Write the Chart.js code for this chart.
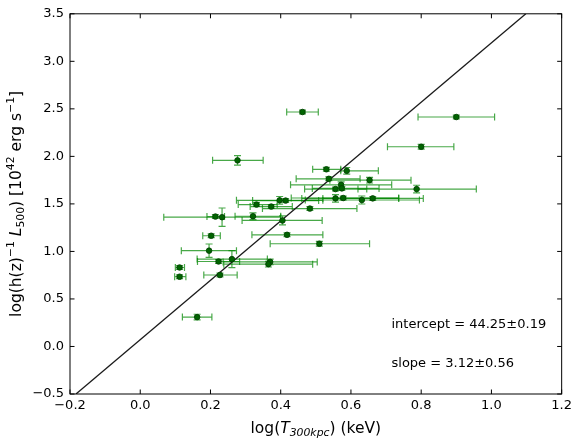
<!DOCTYPE html>
<html>
<head>
<meta charset="utf-8">
<script src="https://cdn.jsdelivr.net/npm/chart.js@4.4.0/dist/chart.umd.min.js"></script>
<style>
  html, body { margin: 0; padding: 0; background: #fff; }
  #wrap { width: 576px; height: 439px; position: relative; }
</style>
</head>
<body>
<div id="wrap"><canvas id="lxt"></canvas></div>
<script>
// log(T_300kpc) and log(h(z)^-1 L_500) for each cluster
var logT = [0.462, 0.800, 0.900, 0.277, 0.530, 0.588, 0.537, 0.653, 0.572, 0.556,
            0.574, 0.787, 0.397, 0.414, 0.556, 0.578, 0.631, 0.662, 0.331, 0.373,
            0.483, 0.214, 0.233, 0.321, 0.405, 0.202, 0.418, 0.510, 0.196, 0.261,
            0.223, 0.370, 0.365, 0.112, 0.112, 0.227, 0.162];
var logL = [2.467, 2.101, 2.414, 1.958, 1.864, 1.848, 1.764, 1.750, 1.701, 1.656,
            1.663, 1.656, 1.538, 1.535, 1.558, 1.562, 1.541, 1.558, 1.493, 1.472,
            1.451, 1.367, 1.360, 1.370, 1.326, 1.165, 1.175, 1.081, 1.008, 0.919,
            0.894, 0.890, 0.866, 0.831, 0.734, 0.752, 0.309];
// ends of the horizontal error bars
var logTlo = [0.417, 0.704, 0.791, 0.206, 0.491, 0.571, 0.444, 0.540, 0.428, 0.468,
              0.490, 0.620, 0.274, 0.320, 0.460, 0.430, 0.470, 0.520, 0.279, 0.313,
              0.348, 0.190, 0.067, 0.270, 0.290, 0.178, 0.318, 0.370, 0.117, 0.162,
              0.163, 0.236, 0.238, 0.100, 0.098, 0.181, 0.120];
var logThi = [0.507, 0.893, 1.009, 0.350, 0.571, 0.678, 0.626, 0.771, 0.716, 0.645,
              0.680, 0.957, 0.520, 0.508, 0.736, 0.736, 0.795, 0.806, 0.390, 0.433,
              0.617, 0.240, 0.400, 0.400, 0.518, 0.228, 0.520, 0.653, 0.274, 0.362,
              0.283, 0.504, 0.491, 0.126, 0.130, 0.276, 0.204];
// symmetric vertical errors
var logLerr = [0.02, 0.025, 0.02, 0.05, 0.02, 0.035, 0.02, 0.03, 0.03, 0.02,
               0.02, 0.04, 0.04, 0.02, 0.04, 0.02, 0.042, 0.02, 0.02, 0.02,
               0.02, 0.02, 0.097, 0.035, 0.047, 0.02, 0.02, 0.025, 0.07, 0.089,
               0.02, 0.03, 0.03, 0.02, 0.02, 0.02, 0.03];

// best fit line end points
var fitT = [-0.183, 1.098];
var fitL = [-0.5, 3.5];

var xTicks = [-0.2, 0.0, 0.2, 0.4, 0.6, 0.8, 1.0, 1.2];
var yTicks = [-0.5, 0.0, 0.5, 1.0, 1.5, 2.0, 2.5, 3.0, 3.5];

var fitText = ['intercept = 44.25\u00b10.19', 'slope = 3.12\u00b10.56'];

var FONT = '"DejaVu Sans", sans-serif';

var points = logT.map(function(t, i) { return {x: t, y: logL[i]}; });
var fitLine = fitT.map(function(t, i) { return {x: t, y: fitL[i]}; });

// draws a list of [text, style] pieces, centred on (cx, cy)
function drawRich(ctx, parts, cx, cy, size, angle) {
  function fontFor(st) {
    var s = (st == 'sup' || st == 'sub' || st == 'isub') ? size * 0.7 : size;
    var it = (st == 'i' || st == 'isub') ? 'oblique ' : '';
    return it + s + 'px ' + FONT;
  }
  var total = 0;
  parts.forEach(function(p) {
    ctx.font = fontFor(p[1]);
    total += ctx.measureText(p[0]).width;
  });
  ctx.save();
  ctx.translate(cx, cy);
  ctx.rotate(angle);
  ctx.fillStyle = '#000';
  ctx.textBaseline = 'alphabetic';
  var x = -total / 2;
  var base = size * 0.36;
  parts.forEach(function(p) {
    ctx.font = fontFor(p[1]);
    var dy = 0;
    if (p[1] == 'sup') dy = -size * 0.42;
    if (p[1] == 'sub' || p[1] == 'isub') dy = size * 0.2;
    ctx.fillText(p[0], x, base + dy);
    x += ctx.measureText(p[0]).width;
  });
  ctx.restore();
}

var errorBars = {
  id: 'errorBars',
  beforeDatasetsDraw: function(chart) {
    var ctx = chart.ctx, xs = chart.scales.x, ys = chart.scales.y, a = chart.chartArea;
    ctx.save();
    ctx.beginPath();
    ctx.rect(a.left, a.top, a.right - a.left, a.bottom - a.top);
    ctx.clip();
    ctx.strokeStyle = 'rgba(0,135,0,0.72)';
    ctx.lineWidth = 1.2;
    var cap = 3.5;
    for (var i = 0; i < logT.length; i++) {
      var px = xs.getPixelForValue(logT[i]);
      var py = ys.getPixelForValue(logL[i]);
      var x0 = xs.getPixelForValue(logTlo[i]);
      var x1 = xs.getPixelForValue(logThi[i]);
      var y0 = ys.getPixelForValue(logL[i] - logLerr[i]);
      var y1 = ys.getPixelForValue(logL[i] + logLerr[i]);
      ctx.beginPath();
      ctx.moveTo(x0, py); ctx.lineTo(x1, py);
      ctx.moveTo(x0, py - cap); ctx.lineTo(x0, py + cap);
      ctx.moveTo(x1, py - cap); ctx.lineTo(x1, py + cap);
      ctx.moveTo(px, y0); ctx.lineTo(px, y1);
      ctx.moveTo(px - cap, y0); ctx.lineTo(px + cap, y0);
      ctx.moveTo(px - cap, y1); ctx.lineTo(px + cap, y1);
      ctx.stroke();
    }
    ctx.restore();
  }
};

var frame = {
  id: 'frame',
  afterDraw: function(chart) {
    var ctx = chart.ctx, xs = chart.scales.x, ys = chart.scales.y, a = chart.chartArea;
    ctx.save();
    ctx.strokeStyle = '#000';
    ctx.lineWidth = 1;
    ctx.strokeRect(a.left, a.top, a.right - a.left, a.bottom - a.top);
    var tl = 4.5;
    ctx.beginPath();
    xTicks.forEach(function(v) {
      var p = xs.getPixelForValue(v);
      ctx.moveTo(p, a.bottom); ctx.lineTo(p, a.bottom - tl);
      ctx.moveTo(p, a.top); ctx.lineTo(p, a.top + tl);
    });
    yTicks.forEach(function(v) {
      var p = ys.getPixelForValue(v);
      ctx.moveTo(a.left, p); ctx.lineTo(a.left + tl, p);
      ctx.moveTo(a.right, p); ctx.lineTo(a.right - tl, p);
    });
    ctx.stroke();

    ctx.fillStyle = '#000';
    ctx.font = '13px ' + FONT;
    ctx.textBaseline = 'middle';
    ctx.textAlign = 'left';
    ctx.fillText(fitText[0], 391.5, 325);
    ctx.fillText(fitText[1], 391.5, 364);

    drawRich(ctx, [['log(', 'n'], ['T', 'i'], ['300kpc', 'isub'], [') (keV)', 'n']],
             (a.left + a.right) / 2, 427, 15.5, 0);
    drawRich(ctx, [['log(h(z)', 'n'], ['\u22121', 'sup'], [' ', 'n'], ['L', 'i'], ['500', 'sub'],
                   [') [10', 'n'], ['42', 'sup'], [' erg s', 'n'], ['\u22121', 'sup'], [']', 'n']],
             15, (a.top + a.bottom) / 2, 15.5, -Math.PI / 2);
    ctx.restore();
  }
};

var ctx = document.getElementById('lxt');
var lxtChart = new Chart(ctx, {
  type: 'scatter',
  data: {
    datasets: [
      {
        label: 'clusters',
        data: points,
        pointRadius: 2.8,
        pointBackgroundColor: 'rgb(0,100,0)',
        pointBorderColor: 'rgb(0,60,0)',
        pointBorderWidth: 0.8,
        order: 1
      },
      {
        label: 'fit',
        data: fitLine,
        showLine: true,
        pointRadius: 0,
        borderColor: '#1a1a1a',
        borderWidth: 1.3,
        order: 2
      }
    ]
  },
  options: {
    responsive: true,
    maintainAspectRatio: false,
    animation: false,
    layout: { padding: { left: 0, top: 11, right: 11.7, bottom: 0 } },
    plugins: { legend: { display: false }, tooltip: { enabled: false } },
    scales: {
      x: {
        type: 'linear',
        min: -0.2,
        max: 1.2,
        afterBuildTicks: function(scale) { scale.ticks = xTicks.map(function(v) { return {value: v}; }); },
        afterFit: function(scale) { scale.height = 45; },
        grid: { display: false, drawTicks: false },
        border: { display: false },
        ticks: {
          padding: 4,
          color: '#000',
          font: { family: FONT, size: 13 },
          maxRotation: 0,
          callback: function(v) { return (v < 0 ? '\u2212' : '') + Math.abs(v).toFixed(1); }
        }
      },
      y: {
        type: 'linear',
        min: -0.5,
        max: 3.5,
        afterBuildTicks: function(scale) { scale.ticks = yTicks.map(function(v) { return {value: v}; }); },
        afterFit: function(scale) { scale.width = 70; },
        grid: { display: false, drawTicks: false },
        border: { display: false },
        ticks: {
          padding: 6,
          color: '#000',
          font: { family: FONT, size: 13 },
          callback: function(v) { return (v < 0 ? '\u2212' : '') + Math.abs(v).toFixed(1); }
        }
      }
    }
  },
  plugins: [errorBars, frame]
});
</script>
</body>
</html>
